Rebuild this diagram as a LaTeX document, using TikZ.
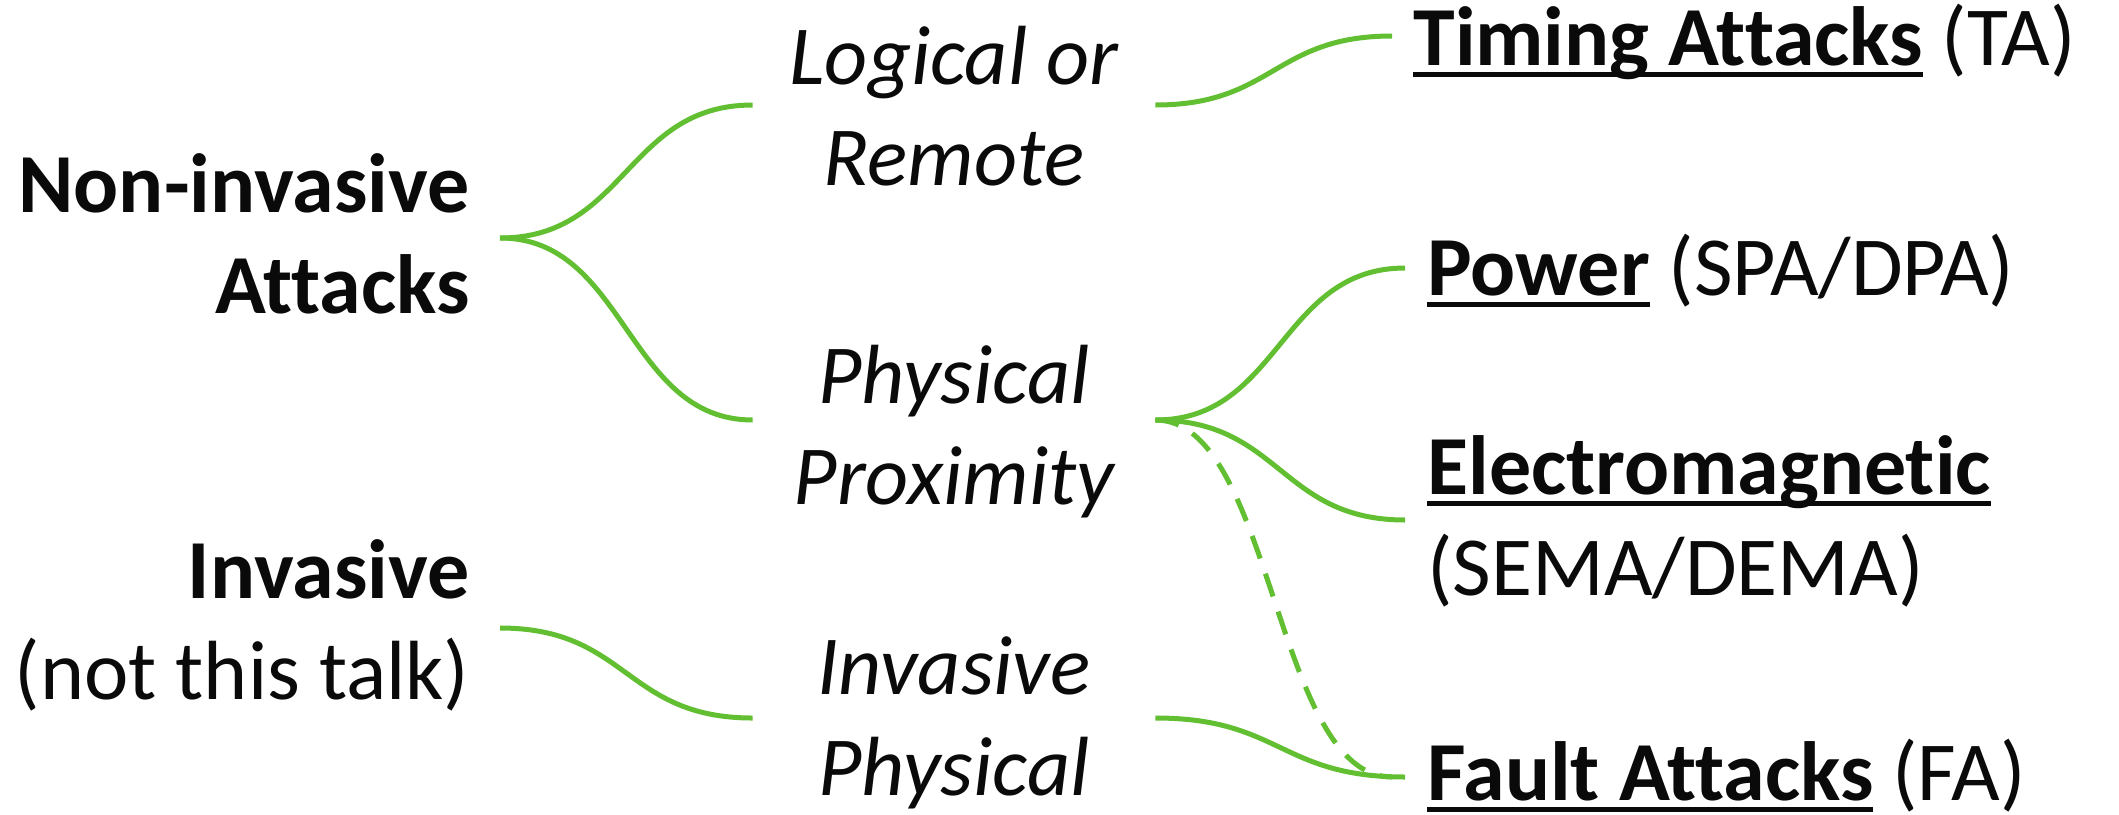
\documentclass[tikz,border=0pt]{standalone}
\usepackage{fontspec}
\setmainfont{Carlito}[Ligatures=NoCommon]
\definecolor{lgreen}{RGB}{98,191,50}
\definecolor{txt}{RGB}{10,10,10}
\newcommand\ulbox[1]{\setbox0\hbox{#1}\rlap{\rule[-6pt]{\wd0}{2.6pt}}\box0\relax}
\begin{document}
\begin{tikzpicture}[x=0.5pt,y=-0.5pt,
  lbl/.style={inner sep=0pt, text=txt, font=\fontsize{42}{50.5}\selectfont},
  leftn/.style={lbl, align=right, inner xsep=15pt, anchor=base east},
  midn/.style={lbl, align=center, minimum width=201pt, anchor=base, font=\fontsize{42}{50.5}\selectfont\itshape},
  rightn/.style={lbl, align=left, anchor=base west},
  conn/.style={draw=lgreen, line width=2.5pt},
  dconn/.style={conn, dash pattern=on 12pt off 8pt}]
\useasboundingbox (0,0) rectangle (2119,814);
% base anchor = baseline of the last line
\node[leftn, font=\fontsize{42}{50.5}\selectfont\bfseries] (NI) at (500,313) {Non-invasive\\Attacks};
\node[leftn] (INV) at (500,699) {\textbf{Invasive}\\(not this talk)};
\node[midn] (LR) at (954,185) {Logical or\\Remote};
\node[midn] (PP) at (954,504) {Physical\\Proximity};
\node[midn] (IP) at (954,795) {Invasive\\Physical};
\node[rightn] (TA) at (1413,65) {\ulbox{\textbf{Timing Attacks}} (TA)};
\node[rightn] (PW) at (1427,295) {\ulbox{\textbf{Power}} (SPA/DPA)};
\node[rightn] (EM) at (1427,595) {\ulbox{\textbf{Electromagnetic}}\\(SEMA/DEMA)};
\node[rightn] (FA) at (1427,800) {\ulbox{\textbf{Fault Attacks}} (FA)};
\draw[conn] ([yshift=37.5pt]NI.base east) .. controls +(126,0) and +(-126,0) .. ([yshift=40pt]LR.base west);
\draw[conn] ([yshift=37.5pt]NI.base east) .. controls +(126,0) and +(-126,0) .. ([yshift=42pt]PP.base west);
\draw[conn] ([yshift=35.5pt]INV.base east) .. controls +(128,0) and +(-128,0) .. ([yshift=38.5pt]IP.base west);
\draw[conn] ([yshift=40pt]LR.base east) .. controls +(118,0) and +(-118,0) .. ([xshift=-10.5pt,yshift=14.5pt]TA.base west);
\draw[conn] ([yshift=42pt]PP.base east) .. controls +(125,0) and +(-125,0) .. ([xshift=-11pt,yshift=13.5pt]PW.base west);
\draw[conn] ([yshift=42pt]PP.base east) .. controls +(125,0) and +(-125,0) .. ([xshift=-11pt,yshift=37.5pt]EM.base west);
\draw[dconn] ([yshift=42pt]PP.base east) .. controls +(118,0) and +(-118,0) .. ([xshift=-17.5pt,yshift=11.5pt]FA.base west);
\draw[conn] ([yshift=38.5pt]IP.base east) .. controls +(125,0) and +(-125,0) .. ([xshift=-11pt,yshift=11.5pt]FA.base west);
\end{tikzpicture}
\end{document}
